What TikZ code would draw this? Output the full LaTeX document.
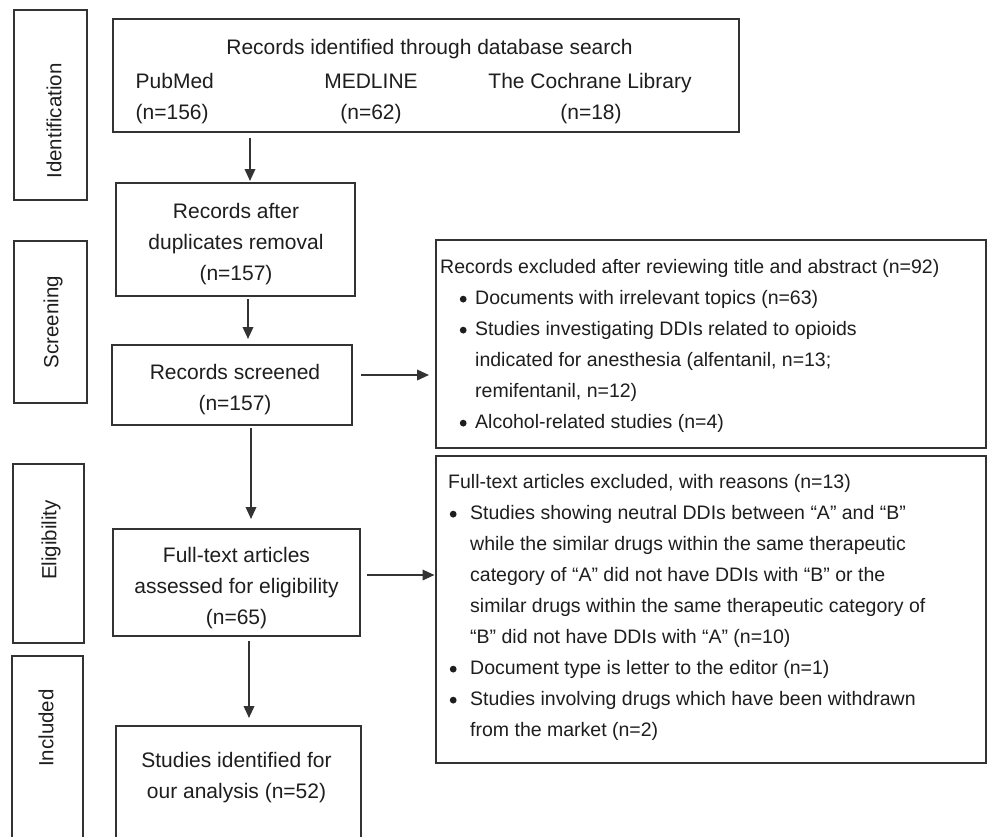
\documentclass[tikz,border=0pt]{standalone}
\usepackage{fontspec}
\setmainfont{Liberation Sans}
\usetikzlibrary{arrows.meta}
\definecolor{ln}{HTML}{333333}
\definecolor{tx}{HTML}{1E1E1E}
\newcommand{\dotA}{\tikz[baseline=-5pt]\fill[tx] (0,0) circle[radius=3.4pt];}
\newcommand{\bulA}{\makebox[35pt][l]{\hspace*{19.6pt}\dotA}}
\newcommand{\indA}{\hspace*{35pt}}
\newcommand{\bulB}{\makebox[22pt][l]{\hspace*{1.6pt}\dotA}}
\newcommand{\indB}{\hspace*{22pt}}
\tikzset{
  box/.style={draw=ln, line width=2pt, rectangle, inner sep=0pt},
  side/.style={rotate=90, text=tx, inner sep=0pt, font=\fontsize{20.5}{24}\selectfont},
  txt/.style={text=tx, inner sep=0pt, align=center, font=\fontsize{21}{31}\selectfont},
  rtxt/.style={text=tx, inner sep=0pt, align=left, anchor=north west, font=\fontsize{19.5}{31}\selectfont},
  arr/.style={draw=ln, line width=2pt, -{Triangle[length=12pt,width=10.5pt]}},
}
\begin{document}
\begin{tikzpicture}[x=1pt,y=-1pt]
\path[use as bounding box, clip] (0,0) rectangle (987,836);
\fill[white] (0,0) rectangle (987,836);

% side stage boxes
\node[box, minimum width=73pt, minimum height=190pt] (ident) at (50.5,105) {};
\node[box, minimum width=73pt, minimum height=162pt] (screen) at (50.5,322) {};
\node[box, minimum width=71pt, minimum height=179pt] (elig) at (48.5,553.5) {};
\node[box, minimum width=71pt, minimum height=194pt] (incl) at (47.5,753) {};
\node[side] (identl) at (54,121) {Identification};
\node[side] (screenl) at (53,322) {Screening};
\node[side] (eligl) at (51,540) {Eligibility};
\node[side] (incll) at (46,728) {Included};

% top box
\node[box, minimum width=626pt, minimum height=113pt] (top) at (426,75.5) {};
\node[txt, anchor=base] (topt) at (429.5,54) {Records identified through database search};
\node[txt, anchor=base west] (pub) at (135.5,88) {PubMed};
\node[txt, anchor=base west] (pubn) at (135.5,119) {(n=156)};
\node[txt, anchor=base] (med) at (371,88) {MEDLINE};
\node[txt, anchor=base] (medn) at (371,119) {(n=62)};
\node[txt, anchor=base] (coch) at (590,88) {The Cochrane Library};
\node[txt, anchor=base] (cochn) at (591,119) {(n=18)};

% main column
\node[box, minimum width=239pt, minimum height=113pt] (dup) at (235.5,239.5) {};
\node[txt] (dupt) at (236,244.5) {Records after\\duplicates removal\\(n=157)};
\node[box, minimum width=240pt, minimum height=80pt] (scr) at (232,385) {};
\node[txt] (scrt) at (235,390) {Records screened\\(n=157)};
\node[box, minimum width=247pt, minimum height=107pt] (full) at (236.5,582.5) {};
\node[txt] (fullt) at (236.5,588.5) {Full-text articles\\assessed for eligibility\\(n=65)};
\node[box, minimum width=245pt, minimum height=124pt] (inc) at (238.5,788) {};
\node[txt] (inct) at (236.5,777.5) {Studies identified for\\our analysis (n=52)};

% exclusion boxes
\node[box, minimum width=550pt, minimum height=208pt] (ex1) at (711,344) {};
\node[box, minimum width=550pt, minimum height=307pt] (ex2) at (711,609.5) {};
\node[rtxt] (ex1t) at (440,258.8) {Records excluded after reviewing title and abstract (n=92)\\
\bulA Documents with irrelevant topics (n=63)\\
\bulA Studies investigating DDIs related to opioids\\
\indA indicated for anesthesia (alfentanil, n=13;\\
\indA remifentanil, n=12)\\
\bulA Alcohol-related studies (n=4)};
\node[rtxt] (ex2t) at (448,473.8) {Full-text articles excluded, with reasons (n=13)\\
\bulB Studies showing neutral DDIs between “A” and “B”\\
\indB while the similar drugs within the same therapeutic\\
\indB category of “A” did not have DDIs with “B” or the\\
\indB similar drugs within the same therapeutic category of\\
\indB “B” did not have DDIs with “A” (n=10)\\
\bulB Document type is letter to the editor (n=1)\\
\bulB Studies involving drugs which have been withdrawn\\
\indB from the market (n=2)};

% arrows
\draw[arr, shorten <=5pt, shorten >=1pt] ([xshift=14.5pt]dup.north |- top.south) -- ([xshift=14.5pt]dup.north);
\draw[arr, shorten <=2pt, shorten >=5pt] ([xshift=12.5pt]dup.south) -- ([xshift=12.5pt]dup.south |- scr.north);
\draw[arr, shorten <=2pt, shorten >=9pt] ([xshift=19pt]scr.south) -- ([xshift=19pt]scr.south |- full.north);
\draw[arr, shorten <=4pt, shorten >=7pt] ([xshift=12.5pt]full.south) -- ([xshift=12.5pt]full.south |- inc.north);
\draw[arr, shorten <=8pt, shorten >=6pt] ([yshift=10pt]scr.east) -- ([yshift=10pt]scr.east -| ex1.west);
\draw[arr, shorten <=6pt, shorten >=0.5pt] ([yshift=7.5pt]full.east) -- ([yshift=7.5pt]full.east -| ex2.west);
\end{tikzpicture}
\end{document}
